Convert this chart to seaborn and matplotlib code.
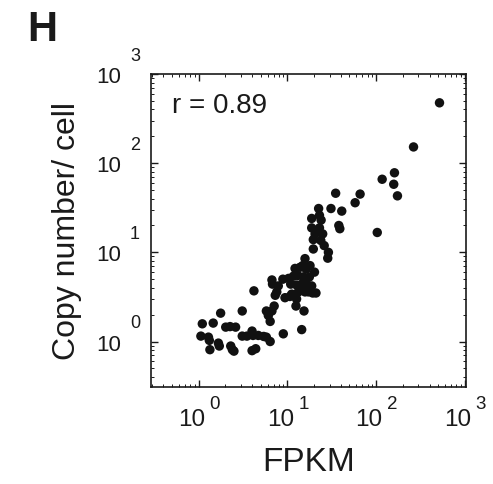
import numpy as np
import pandas as pd
import matplotlib
matplotlib.use("Agg")
import matplotlib.pyplot as plt
import matplotlib.ticker as mticker
import matplotlib.transforms as mtransforms
import seaborn as sns

fpkm = [518, 264, 117, 161, 158, 174, 103, 66, 58, 35, 31, 41, 38, 39,
        22.5, 23, 24, 18.8, 18.8, 23, 20.5, 25, 19.6, 23.8, 19.6, 26, 29, 28.5,
        15.8, 20.2, 13.9, 16.3, 12.2, 11.7, 13.1, 15.1, 10.3, 10.9, 12.7, 14.5,
        16.5, 18.8, 19.3, 21, 15.8, 13.3, 11.2, 10.7, 9.4, 12.7, 12.5, 15.4,
        14.5, 9.0, 8.9, 6.7, 6.8, 7.6, 7.3, 7.1, 6.7, 5.8, 6.1, 6.4, 7.9,
        4.2, 3.1, 1.77, 1.10, 1.46, 1.06, 1.29, 1.32, 1.34, 1.67, 1.71, 2.02,
        2.26, 2.61, 3.1, 3.5, 4.0, 4.1, 4.7, 5.4, 5.8, 6.4, 2.3, 2.4, 2.5,
        4.0, 4.4, 14.9, 18.0, 13.9, 17.3, 17.7]
copies = [475, 152, 66, 78, 58, 43, 16.7, 45, 36, 46, 31, 29, 20, 18.4,
          31, 26, 23, 24, 18.8, 18.8, 16.1, 16.1, 13.9, 13.6, 10.9, 11.9, 10.0, 8.6,
          8.5, 6.0, 6.8, 6.5, 6.6, 5.4, 5.5, 5.3, 5.1, 4.4, 4.3, 4.4,
          4.4, 4.2, 3.5, 3.5, 3.6, 3.6, 3.4, 3.2, 3.1, 3.0, 2.5, 2.2,
          1.36, 1.22, 5.0, 4.9, 4.4, 3.6, 3.3, 2.5, 2.2, 2.2, 1.96, 1.68, 4.2,
          3.7, 2.2, 2.08, 1.58, 1.61, 1.15, 1.12, 1.03, 0.81, 0.96, 0.89, 1.45,
          1.47, 1.45, 1.15, 1.15, 1.31, 1.17, 1.17, 1.14, 1.12, 1.0, 0.89, 0.81, 0.78,
          0.79, 0.83, 7.1, 7.1, 4.1, 3.6, 5.3]
r_text = "r = 0.89"
panel = "H"
xlabel = "FPKM"
ylabel = "Copy number/ cell"
decades = [0, 1, 2, 3]

sns.set_style("ticks")
plt.rcParams["font.family"] = ["Liberation Sans", "DejaVu Sans"]

INK = "#1a1a1a"
df = pd.DataFrame({"fpkm": fpkm, "copies": copies})

fig = plt.figure(figsize=(4.93, 4.85), dpi=100)
ax = fig.add_axes([0.3057, 0.2, 0.639, 0.6454])
sns.scatterplot(data=df, x="fpkm", y="copies", ax=ax, color="#111111",
                s=46, edgecolor="none", linewidth=0)
ax.set_xscale("log")
ax.set_yscale("log")
ax.set_xlim(10 ** -0.54, 10 ** 3.01)
ax.set_ylim(10 ** -0.51, 10 ** 3)

ticks = [10.0 ** d for d in decades]
ax.set_xticks(ticks)
ax.set_yticks(ticks)
ax.set_xticklabels(["10"] * len(ticks))
ax.set_yticklabels(["10"] * len(ticks))
ax.xaxis.set_minor_locator(mticker.LogLocator(base=10, subs=np.arange(2, 10)))
ax.yaxis.set_minor_locator(mticker.LogLocator(base=10, subs=np.arange(2, 10)))
ax.xaxis.set_minor_formatter(mticker.NullFormatter())
ax.yaxis.set_minor_formatter(mticker.NullFormatter())
ax.tick_params(which="major", direction="in", length=5, width=1.0,
               top=True, right=True, colors=INK)
ax.tick_params(axis="x", which="major", labelsize=17.5, pad=15)
ax.tick_params(axis="y", which="major", labelsize=16, pad=21)
ax.tick_params(which="minor", direction="in", length=2.3, width=0.7,
               top=True, right=True, colors=INK)
for sp in ax.spines.values():
    sp.set_visible(True)
    sp.set_linewidth(1.2)
    sp.set_color(INK)

# shift the "10" of x tick labels a little left of the tick (exponent sits right)
shift = mtransforms.ScaledTranslation(-7 / 100, 0, fig.dpi_scale_trans)
for lab in ax.get_xticklabels():
    lab.set_transform(lab.get_transform() + shift)

# exponents of the tick labels
xb = ax.get_xaxis_transform()
yb = ax.get_yaxis_transform()
for d, t in zip(decades, ticks):
    ax.annotate(str(d), xy=(t, 0), xycoords=xb, xytext=(11.5, -12),
                textcoords="offset points", ha="center", va="center",
                fontsize=13.5, color=INK, annotation_clip=False)
    ax.annotate(str(d), xy=(0, t), xycoords=yb, xytext=(-11.3, 13.5),
                textcoords="offset points", ha="center", va="center",
                fontsize=13, color=INK, annotation_clip=False)

ax.set_xlabel(xlabel, fontsize=24, color=INK)
ax.set_ylabel(ylabel, fontsize=23, color=INK)
ax.xaxis.set_label_coords(0.5, -0.19)
ax.yaxis.set_label_coords(-0.218, 0.5)
ax.text(0.068, 0.879, r_text, transform=ax.transAxes, fontsize=20,
        color=INK, va="baseline", ha="left")
fig.text(0.055, 0.915, panel, fontsize=30, fontweight="bold",
         va="baseline", ha="left", color=INK)

fig.savefig("out.png", dpi=100)
